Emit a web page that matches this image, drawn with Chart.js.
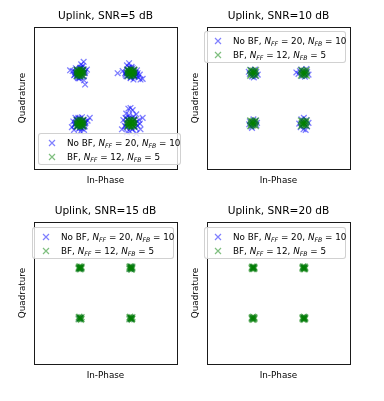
<!DOCTYPE html>
<html>
<head>
<meta charset="utf-8">
<script src="https://cdn.jsdelivr.net/npm/chart.js@4"></script>
<style>
  body { margin: 0; background: #fff; width: 384px; height: 401px; position: relative; overflow: hidden; font-family: "DejaVu Sans", sans-serif; }
  .panel { position: absolute; width: 192px; height: 200px; }
  .legend { position: absolute; box-sizing: border-box; background: rgba(255,255,255,0.8); border: 1px solid rgba(204,204,204,0.9); border-radius: 3px; font-size: 8.8px; color: #000; }
  .row { position: absolute; left: 0; white-space: nowrap; line-height: 10px; }
  .row svg { position: absolute; top: 1px; }
  .row span { position: absolute; top: 0; }
  sub { font-size: 70%; vertical-align: -0.25em; line-height: 0; }
</style>
</head>
<body>
<div class="panel" style="left:0;top:0"><canvas id="c0" width="192" height="200"></canvas></div>
<div class="panel" style="left:173px;top:0"><canvas id="c1" width="192" height="200"></canvas></div>
<div class="panel" style="left:0;top:195px"><canvas id="c2" width="192" height="200"></canvas></div>
<div class="panel" style="left:173px;top:195px"><canvas id="c3" width="192" height="200"></canvas></div>
<div id="legends"></div>
<script>
const panelTitles = ['Uplink, SNR=5 dB', 'Uplink, SNR=10 dB', 'Uplink, SNR=15 dB', 'Uplink, SNR=20 dB'];
const seriesLabels = ['No BF, <i>N</i><sub><i>FF</i></sub> = 20, <i>N</i><sub><i>FB</i></sub> = 10',
                      'BF, <i>N</i><sub><i>FF</i></sub> = 12, <i>N</i><sub><i>FB</i></sub> = 5'];
const xLabel = 'In-Phase';
const yLabel = 'Quadrature';

// received symbols [in-phase, quadrature]
const noBf5 = [
  [-0.71,0.71],[-0.62,0.78],[-0.80,0.66],[-0.75,0.80],[-0.66,0.62],[-0.85,0.74],[-0.58,0.70],[-0.70,0.86],[-0.78,0.58],[-0.64,0.90],[-0.92,0.76],[-0.99,0.78],[-0.57,0.38],[-0.60,0.50],[-0.52,0.80],[-0.88,0.64],[-0.73,0.55],[-0.68,0.95],[-0.83,0.84],[-0.61,1.02],[-0.76,0.70],[-0.67,0.74],
  [-0.84,0.71],[-0.58,0.72],[-0.71,0.84],[-0.71,0.58],[-0.81,0.80],[-0.61,0.81],[-0.81,0.61],[-0.61,0.61],[-0.86,0.66],[-0.56,0.76],[-0.66,0.86],[-0.76,0.56],
  [0.71,0.71],[0.80,0.64],[0.62,0.78],[0.86,0.62],[0.92,0.58],[1.04,0.54],[0.34,0.70],[0.48,0.76],[0.60,0.92],[0.66,0.98],[0.76,0.84],[0.84,0.72],[0.96,0.66],[0.70,0.56],[0.58,0.62],[0.78,0.52],[0.88,0.78],[0.55,0.70],[0.73,0.88],[0.98,0.52],[0.67,0.64],[0.82,0.60],
  [0.84,0.71],[0.58,0.72],[0.71,0.84],[0.71,0.58],[0.81,0.80],[0.61,0.81],[0.81,0.61],[0.61,0.61],[0.88,0.66],[0.56,0.66],[0.66,0.86],[0.90,0.70],
  [-0.71,-0.71],[-0.80,-0.62],[-0.62,-0.64],[-0.86,-0.74],[-0.58,-0.80],[-0.74,-0.86],[-0.44,-0.56],[-0.50,-0.64],[-0.66,-0.54],[-0.90,-0.66],[-0.78,-0.80],[-0.64,-0.78],[-0.94,-0.82],[-0.70,-0.94],[-0.56,-0.70],[-0.84,-0.56],[-0.76,-0.60],[-0.60,-0.90],[-0.88,-0.90],[-0.68,-0.66],
  [-0.84,-0.71],[-0.58,-0.72],[-0.71,-0.84],[-0.71,-0.58],[-0.81,-0.80],[-0.61,-0.81],[-0.81,-0.61],[-0.61,-0.61],[-0.86,-0.76],[-0.56,-0.66],[-0.76,-0.56],[-0.66,-0.86],
  [0.71,-0.71],[0.64,-0.30],[0.76,-0.34],[0.70,-0.28],[0.58,-0.44],[0.86,-0.46],[1.04,-0.56],[0.94,-0.62],[0.46,-0.88],[0.54,-0.78],[0.84,-0.84],[0.62,-0.60],[0.80,-0.60],[0.90,-0.78],[0.56,-0.56],[0.98,-0.88],[0.68,-0.94],[0.50,-0.62],[0.78,-0.52],[0.66,-0.48],[0.96,-0.72],[0.60,-0.96],[0.86,-1.00],
  [0.84,-0.71],[0.58,-0.72],[0.71,-0.84],[0.71,-0.58],[0.81,-0.80],[0.61,-0.81],[0.81,-0.61],[0.61,-0.61],[0.88,-0.66],[0.56,-0.80],[0.66,-0.56],[0.76,-0.88]
];
const bf5 = [
  [-0.71,0.71],[-0.65,0.76],[-0.77,0.66],[-0.66,0.65],[-0.76,0.77],[-0.71,0.79],[-0.71,0.63],[-0.63,0.71],[-0.79,0.71],[-0.68,0.68],[-0.74,0.74],[-0.68,0.74],[-0.74,0.68],[-0.64,0.79],[-0.78,0.63],[-0.80,0.78],
  [-0.62,0.62],[-0.80,0.80],[-0.62,0.80],[-0.80,0.62],[-0.71,0.81],[-0.81,0.71],[-0.61,0.71],[-0.71,0.61],[-0.66,0.71],[-0.76,0.71],
  [0.71,0.71],[0.77,0.76],[0.65,0.66],[0.76,0.65],[0.66,0.77],[0.71,0.79],[0.71,0.63],[0.79,0.71],[0.63,0.71],[0.74,0.68],[0.68,0.74],[0.74,0.74],[0.68,0.68],[0.79,0.64],[0.63,0.78],[0.80,0.78],
  [0.62,0.62],[0.80,0.80],[0.62,0.80],[0.80,0.62],[0.71,0.81],[0.81,0.71],[0.61,0.71],[0.71,0.61],[0.66,0.71],[0.76,0.71],
  [-0.71,-0.71],[-0.65,-0.66],[-0.77,-0.76],[-0.66,-0.77],[-0.76,-0.65],[-0.71,-0.63],[-0.71,-0.79],[-0.63,-0.71],[-0.79,-0.71],[-0.68,-0.74],[-0.74,-0.68],[-0.68,-0.68],[-0.74,-0.74],[-0.64,-0.63],[-0.78,-0.79],[-0.62,-0.78],
  [-0.62,-0.62],[-0.80,-0.80],[-0.62,-0.80],[-0.80,-0.62],[-0.71,-0.81],[-0.81,-0.71],[-0.61,-0.71],[-0.71,-0.61],[-0.66,-0.71],[-0.76,-0.71],
  [0.71,-0.71],[0.77,-0.66],[0.65,-0.76],[0.76,-0.77],[0.66,-0.65],[0.71,-0.63],[0.71,-0.79],[0.79,-0.71],[0.63,-0.71],[0.74,-0.74],[0.68,-0.68],[0.74,-0.68],[0.68,-0.74],[0.80,-0.62],[0.62,-0.79],[0.79,-0.80],
  [0.62,-0.62],[0.80,-0.80],[0.62,-0.80],[0.80,-0.62],[0.71,-0.81],[0.81,-0.71],[0.61,-0.71],[0.71,-0.61],[0.66,-0.71],[0.76,-0.71]
];
const noBf10 = [
  [-0.71,0.71],[-0.62,0.74],[-0.80,0.68],[-0.74,0.61],[-0.66,0.80],[-0.58,0.66],[-0.77,0.79],[-0.69,0.58],[-0.83,0.74],[-0.64,0.62],
  [0.71,0.71],[0.50,0.72],[0.56,0.68],[0.80,0.74],[0.74,0.60],[0.64,0.80],[0.78,0.82],[0.66,0.62],[0.84,0.66],[0.60,0.76],
  [-0.71,-0.71],[-0.80,-0.66],[-0.62,-0.76],[-0.76,-0.80],[-0.64,-0.64],[-0.82,-0.74],[-0.70,-0.60],[-0.60,-0.70],[-0.74,-0.84],
  [0.71,-0.71],[0.71,-0.56],[0.64,-0.60],[0.78,-0.62],[0.80,-0.80],[0.62,-0.82],[0.70,-0.88],[0.84,-0.70],[0.58,-0.72],[0.76,-0.90]
];
const bf10 = [
  [-0.71,0.71],[-0.66,0.75],[-0.76,0.67],[-0.67,0.66],[-0.75,0.76],[-0.71,0.77],[-0.71,0.65],[-0.65,0.71],[-0.77,0.71],[-0.68,0.73],
  [-0.63,0.63],[-0.79,0.79],[-0.63,0.79],[-0.79,0.63],
  [0.71,0.71],[0.76,0.75],[0.66,0.67],[0.75,0.66],[0.67,0.76],[0.71,0.77],[0.71,0.65],[0.77,0.71],[0.65,0.71],[0.73,0.68],
  [0.63,0.63],[0.79,0.79],[0.63,0.79],[0.79,0.63],
  [-0.71,-0.71],[-0.66,-0.67],[-0.76,-0.75],[-0.67,-0.76],[-0.75,-0.66],[-0.71,-0.65],[-0.71,-0.77],[-0.65,-0.71],[-0.77,-0.71],[-0.73,-0.68],
  [-0.63,-0.63],[-0.79,-0.79],[-0.63,-0.79],[-0.79,-0.63],
  [0.71,-0.71],[0.76,-0.67],[0.66,-0.75],[0.75,-0.76],[0.67,-0.66],[0.71,-0.65],[0.71,-0.77],[0.77,-0.71],[0.65,-0.71],[0.68,-0.73],
  [0.63,-0.63],[0.79,-0.79],[0.63,-0.79],[0.79,-0.63]
];
const noBf15 = [
  [-0.72,0.70],[-0.69,0.72],[-0.71,0.69],
  [0.70,0.68],[0.73,0.71],[0.71,0.73],
  [-0.73,-0.72],[-0.70,-0.70],
  [0.72,-0.70],[0.70,-0.73]
];
const bf15 = [
  [-0.71,0.71],[-0.67,0.74],[-0.75,0.68],[-0.68,0.68],[-0.74,0.74],[-0.71,0.75],[-0.71,0.67],[-0.67,0.71],[-0.75,0.71],[-0.73,0.70],[-0.69,0.72],
  [0.71,0.71],[0.75,0.74],[0.67,0.68],[0.74,0.67],[0.68,0.75],[0.71,0.75],[0.72,0.66],[0.67,0.72],[0.75,0.70],[0.70,0.69],[0.73,0.72],
  [-0.71,-0.71],[-0.67,-0.68],[-0.75,-0.74],[-0.69,-0.75],[-0.73,-0.67],[-0.67,-0.73],[-0.75,-0.69],[-0.71,-0.70],[-0.70,-0.72],
  [0.71,-0.71],[0.75,-0.68],[0.67,-0.74],[0.73,-0.75],[0.69,-0.67],[0.74,-0.73],[0.67,-0.69],[0.75,-0.72],[0.70,-0.70],[0.72,-0.72]
];
const noBf20 = [
  [-0.71,0.70],[-0.70,0.72],
  [0.72,0.70],[0.70,0.72],
  [-0.72,-0.71],
  [0.71,-0.72],[0.72,-0.70]
];
const bf20 = [
  [-0.71,0.71],[-0.68,0.74],[-0.74,0.68],[-0.68,0.68],[-0.74,0.74],[-0.71,0.74],[-0.67,0.71],[-0.75,0.71],[-0.71,0.68],[-0.70,0.72],
  [0.71,0.71],[0.74,0.74],[0.68,0.68],[0.74,0.68],[0.68,0.74],[0.72,0.67],[0.70,0.75],[0.75,0.71],[0.67,0.71],[0.72,0.70],
  [-0.71,-0.71],[-0.68,-0.68],[-0.74,-0.74],[-0.68,-0.74],[-0.74,-0.68],[-0.71,-0.67],[-0.71,-0.75],[-0.67,-0.71],[-0.75,-0.71],
  [0.71,-0.71],[0.74,-0.68],[0.68,-0.74],[0.74,-0.74],[0.68,-0.68],[0.71,-0.75],[0.71,-0.67],[0.75,-0.71],[0.67,-0.71],[0.72,-0.72]
];
const axisLimit = [-2, 2];

const panels = [
  { noBf: noBf5, bf: bf5 },
  { noBf: noBf10, bf: bf10 },
  { noBf: noBf15, bf: bf15 },
  { noBf: noBf20, bf: bf20 }
];
const blue = 'rgba(0, 0, 255, 0.5)';
const green = 'rgba(0, 128, 0, 0.5)';

// legend boxes, page pixels: [left, top, width, height]
const legendBoxes = [
  [38, 133, 143, 32],
  [204, 31, 142, 32],
  [32, 227, 142, 32],
  [204, 227, 142, 32]
];

const frame = {
  id: 'frame',
  afterDraw(chart) {
    const a = chart.chartArea, ctx = chart.ctx;
    ctx.save();
    ctx.strokeStyle = '#1a1a1a';
    ctx.lineWidth = 1;
    ctx.strokeRect(Math.round(a.left) + 0.5, Math.round(a.top) + 0.5,
                   Math.round(a.right - a.left), Math.round(a.bottom - a.top));
    ctx.restore();
  }
};

const toXY = pts => pts.map(p => ({ x: p[0], y: p[1] }));

const font = { family: '"DejaVu Sans", sans-serif' };

panels.forEach((p, i) => {
  new Chart(document.getElementById('c' + i), {
    type: 'scatter',
    data: {
      datasets: [
        { label: 'No BF', data: toXY(p.noBf), order: 1, pointStyle: 'crossRot', radius: 4,
          borderColor: blue, backgroundColor: blue, borderWidth: 1.3 },
        { label: 'BF', data: toXY(p.bf), order: 0, pointStyle: 'crossRot', radius: 4.2,
          borderColor: green, backgroundColor: green, borderWidth: 1.5 }
      ]
    },
    options: {
      responsive: false,
      animation: false,
      layout: { padding: { left: 15.4, right: 15, top: 0, bottom: 10.4 } },
      plugins: {
        legend: { display: false },
        tooltip: { enabled: false },
        title: {
          display: true, text: panelTitles[i], fullSize: false, color: '#000',
          font: { ...font, size: 10.6, weight: 'normal' },
          padding: { top: 10, bottom: 4.3 }
        }
      },
      scales: {
        x: {
          min: axisLimit[0], max: axisLimit[1],
          ticks: { display: false }, grid: { display: false, drawTicks: false }, border: { display: false },
          title: { display: true, text: xLabel, color: '#000', font: { ...font, size: 8.8 }, padding: { top: 6, bottom: 4 } }
        },
        y: {
          min: axisLimit[0], max: axisLimit[1],
          ticks: { display: false }, grid: { display: false, drawTicks: false }, border: { display: false },
          title: { display: true, text: yLabel, color: '#000', font: { ...font, size: 8.8 }, padding: { top: 2, bottom: 6 } }
        }
      }
    },
    plugins: [frame]
  });
});

// legends drawn as overlays
const marker = c => `<svg style="left:9px" width="8" height="8" viewBox="0 0 8 8"><path d="M1 1L7 7M7 1L1 7" stroke="${c}" stroke-width="1.2"/></svg>`;
const host = document.getElementById('legends');
legendBoxes.forEach(b => {
  const d = document.createElement('div');
  d.className = 'legend';
  d.style.cssText = `left:${b[0]}px;top:${b[1]}px;width:${b[2]}px;height:${b[3]}px`;
  d.innerHTML =
    `<div class="row" style="top:4px">${marker(blue)}<span style="left:28px">${seriesLabels[0]}</span></div>` +
    `<div class="row" style="top:18px">${marker(green)}<span style="left:28px">${seriesLabels[1]}</span></div>`;
  host.appendChild(d);
});
</script>
</body>
</html>
